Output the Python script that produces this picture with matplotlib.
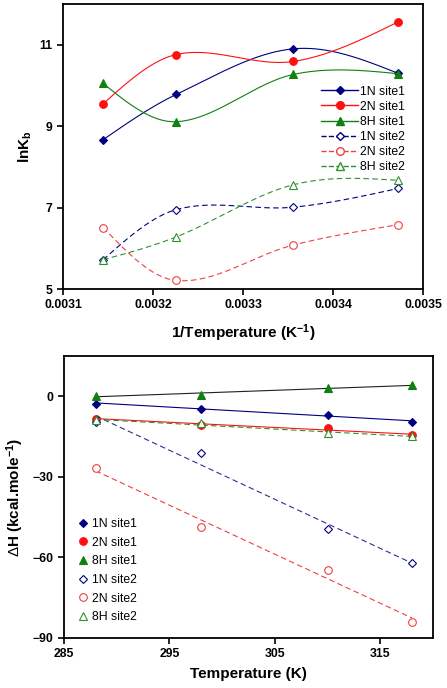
import matplotlib
matplotlib.use('Agg')
import matplotlib.pyplot as plt
import numpy as np

plt.rcParams['font.family'] = ['Liberation Sans', 'DejaVu Sans']
plt.rcParams['mathtext.fontset'] = 'custom'
plt.rcParams['mathtext.rm'] = 'Liberation Sans'
plt.rcParams['mathtext.bf'] = 'Liberation Sans:bold'
plt.rcParams['mathtext.it'] = 'Liberation Sans:italic'

# Temperatures (K)
temps = [318, 310, 298, 288]

# lnKb values (upper panel)
lnk_1n_s1 = [8.67, 9.78, 10.90, 10.30]
lnk_2n_s1 = [9.55, 10.76, 10.59, 11.56]
lnk_8h_s1 = [10.05, 9.11, 10.27, 10.29]
lnk_1n_s2 = [5.72, 6.95, 7.01, 7.47]
lnk_2n_s2 = [6.51, 5.21, 6.08, 6.58]
lnk_8h_s2 = [5.72, 6.28, 7.56, 7.67]

# Delta H values (lower panel)
dh_1n_s1 = [-9.6, -6.8, -4.6, -2.7]
dh_2n_s1 = [-14.6, -11.8, -10.6, -8.3]
dh_8h_s1 = [4.2, 3.0, 0.6, 0.2]
dh_1n_s2 = [-62.0, -49.6, -21.3, -9.6]
dh_2n_s2 = [-84.0, -64.7, -48.8, -26.8]
dh_8h_s2 = [-14.9, -13.7, -10.0, -9.0]

labels = ['1N site1', '2N site1', '8H site1', '1N site2', '2N site2', '8H site2']

navy = '#000080'
red = '#FF1010'
green = '#108010'
red2 = '#F04040'
green2 = '#309030'


def smooth(x, y, n=60):
    # piecewise cubic hermite curve through the points (Catmull-Rom style tangents)
    x = np.asarray(x, float)
    y = np.asarray(y, float)
    o = np.argsort(x)
    x, y = x[o], y[o]
    k = len(x)
    d = np.diff(y) / np.diff(x)
    m = np.zeros(k)
    for i in range(1, k - 1):
        m[i] = (y[i + 1] - y[i - 1]) / (x[i + 1] - x[i - 1])
    m[0] = 1.5 * d[0] - 0.5 * m[1]
    m[-1] = 1.5 * d[-1] - 0.5 * m[-2]
    xs_all, ys_all = [], []
    for i in range(k - 1):
        h = x[i + 1] - x[i]
        t = np.linspace(0, 1, n)
        h00 = 2 * t ** 3 - 3 * t ** 2 + 1
        h10 = t ** 3 - 2 * t ** 2 + t
        h01 = -2 * t ** 3 + 3 * t ** 2
        h11 = t ** 3 - t ** 2
        xs_all.append(x[i] + t * h)
        ys_all.append(h00 * y[i] + h10 * h * m[i] + h01 * y[i + 1] + h11 * h * m[i + 1])
    return np.concatenate(xs_all), np.concatenate(ys_all)


fig = plt.figure(figsize=(4.47, 6.88), dpi=100)

# upper panel
ax1 = fig.add_axes([0.1409, 0.5799, 0.8054, 0.4142])
inv_t = [1.0 / t for t in temps]
top_series = [
    (lnk_1n_s1, navy, 'D', navy, '-'),
    (lnk_2n_s1, red, 'o', red, '-'),
    (lnk_8h_s1, green, '^', green, '-'),
    (lnk_1n_s2, navy, 'D', 'white', '--'),
    (lnk_2n_s2, red2, 'o', 'white', '--'),
    (lnk_8h_s2, green2, '^', 'white', '--'),
]
for (vals, col, mk, fc, ls), lab in zip(top_series, labels):
    xs, ys = smooth(inv_t, vals)
    ax1.plot(xs, ys, color=col, ls=ls, lw=0.8, dashes=(5, 3) if ls == '--' else (None, None))
    ax1.plot(inv_t, vals, ls='none', marker=mk, color=col, mfc=fc, mec=col,
             ms=4.5 if mk == 'D' else 5.5, mew=0.8)
    ax1.plot([], [], color=col, ls=ls, lw=1.0, marker=mk, mfc=fc, mec=col,
             ms=4.5 if mk == 'D' else 5.5, label=lab)

ax1.set_xlim(0.0031, 0.0035)
ax1.set_ylim(5, 12)
ax1.set_xticks([0.0031, 0.0032, 0.0033, 0.0034, 0.0035])
ax1.set_xticklabels(['0.0031', '0.0032', '0.0033', '0.0034', '0.0035'])
ax1.set_yticks([5, 7, 9, 11])
ax1.set_xlabel('1/Temperature (K$^{\\mathbf{-1}}$)', fontsize=11, fontweight='bold', labelpad=8)
ax1.set_ylabel('lnK$_\\mathbf{b}$', fontsize=11, fontweight='bold', labelpad=4)
ax1.legend(loc='upper right', bbox_to_anchor=(0.968, 0.735), frameon=False, fontsize=8.8,
           handlelength=3.0, labelspacing=0.25, handletextpad=0.2, borderpad=0)

# lower panel
ax2 = fig.add_axes([0.1432, 0.0727, 0.8255, 0.4099])
bot_series = [
    (dh_1n_s1, navy, 'D', navy, '-', navy),
    (dh_2n_s1, red, 'o', red, '-', red),
    (dh_8h_s1, green, '^', green, '-', '#202020'),
    (dh_1n_s2, navy, 'D', 'white', '--', '#303090'),
    (dh_2n_s2, red2, 'o', 'white', '--', red2),
    (dh_8h_s2, green2, '^', 'white', '--', green2),
]
tt = np.array(temps, float)
for (vals, col, mk, fc, ls, lcol), lab in zip(bot_series, labels):
    p = np.polyfit(tt, vals, 1)
    xl = np.array([288, 318], float)
    ax2.plot(xl, np.polyval(p, xl), color=lcol, lw=0.8, ls=ls,
             dashes=(5, 3) if ls == '--' else (None, None))
    ax2.plot(temps, vals, ls='none', marker=mk, color=col, mfc=fc, mec=col,
             ms=4.5 if mk == 'D' else 5.5, mew=0.8, label=lab)

ax2.set_xlim(285, 320)
ax2.set_ylim(-90, 15)
ax2.set_xticks([285, 295, 305, 315])
ax2.set_yticks([0, -30, -60, -90])
ax2.set_xlabel('Temperature (K)', fontsize=11, fontweight='bold', labelpad=5)
ax2.set_ylabel('$\\Delta$H (kcal.mole$^{\\mathbf{-1}}$)', fontsize=11, fontweight='bold', labelpad=5)
ax2.legend(loc='lower left', bbox_to_anchor=(0.023, 0.03), frameon=False, fontsize=8.8,
           handlelength=0.8, labelspacing=0.55, handletextpad=0.3, borderpad=0)

for ax in (ax1, ax2):
    for s in ax.spines.values():
        s.set_linewidth(1.3)
    ax.tick_params(direction='out', length=4, width=1.2, labelsize=8.8)
    for lb in ax.get_xticklabels() + ax.get_yticklabels():
        lb.set_fontweight('bold')

fig.savefig('out.png', dpi=100)
